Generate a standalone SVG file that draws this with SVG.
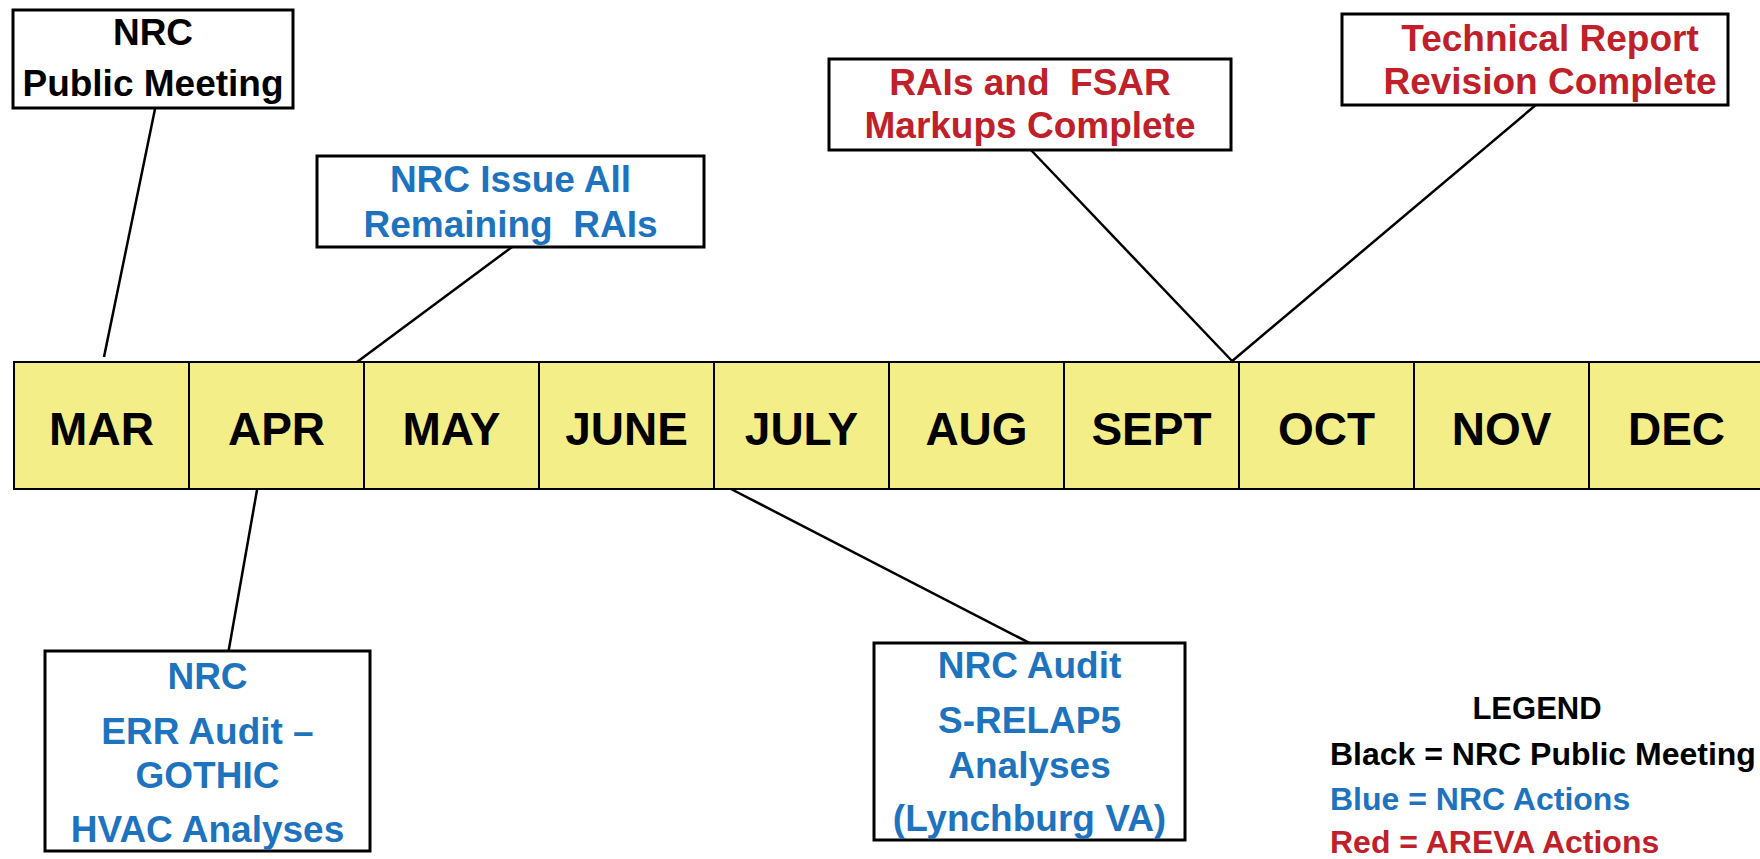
<svg xmlns="http://www.w3.org/2000/svg" width="1760" height="859" viewBox="0 0 1760 859">
<style>
text{font-family:"Liberation Sans",Arial,sans-serif;font-weight:bold;text-anchor:middle}
.box{fill:#fff;stroke:#000;stroke-width:3}
.cell{fill:#F4EE88;stroke:#000;stroke-width:2}
.mon{font-size:46px;fill:#000}
.t{font-size:37px}
.k{fill:#000}.b{fill:#1E73BE}.r{fill:#C0202A}
.con line{stroke:#000;stroke-width:2.5}
</style>
<rect width="1760" height="859" fill="#fff"/>
<g id="timeline">
<rect class="cell" x="14" y="362" width="175" height="127"/>
<rect class="cell" x="189" y="362" width="175" height="127"/>
<rect class="cell" x="364" y="362" width="175" height="127"/>
<rect class="cell" x="539" y="362" width="175" height="127"/>
<rect class="cell" x="714" y="362" width="175" height="127"/>
<rect class="cell" x="889" y="362" width="175" height="127"/>
<rect class="cell" x="1064" y="362" width="175" height="127"/>
<rect class="cell" x="1239" y="362" width="175" height="127"/>
<rect class="cell" x="1414" y="362" width="175" height="127"/>
<rect class="cell" x="1589" y="362" width="180" height="127"/>
<text class="mon" x="101.5" y="445">MAR</text>
<text class="mon" x="276.5" y="445">APR</text>
<text class="mon" x="451.5" y="445">MAY</text>
<text class="mon" x="626.5" y="445">JUNE</text>
<text class="mon" x="801.5" y="445">JULY</text>
<text class="mon" x="976.5" y="445">AUG</text>
<text class="mon" x="1151.5" y="445">SEPT</text>
<text class="mon" x="1326.5" y="445">OCT</text>
<text class="mon" x="1501.5" y="445">NOV</text>
<text class="mon" x="1676.5" y="445">DEC</text>
</g>
<g class="con" id="connectors">
<line x1="155" y1="109" x2="104" y2="357"/>
<line x1="512" y1="247" x2="357" y2="362"/>
<line x1="1030" y1="149" x2="1233" y2="362"/>
<line x1="1537" y1="104" x2="1231" y2="362"/>
<line x1="257" y1="490" x2="227" y2="660"/>
<line x1="731" y1="489" x2="1047" y2="652"/>
</g>
<g id="n-public-meeting">
<rect class="box" x="13" y="10" width="280" height="98"/>
<text class="t k" x="153" y="45">NRC</text>
<text class="t k" x="153" y="96">Public Meeting</text>
</g>
<g id="n-issue-rais">
<rect class="box" x="317" y="156" width="387" height="91"/>
<text class="t b" x="510.5" y="192">NRC Issue All</text>
<text class="t b" x="510.5" y="237" xml:space="preserve">Remaining  RAIs</text>
</g>
<g id="n-fsar">
<rect class="box" x="829" y="59" width="402" height="91"/>
<text class="t r" x="1030" y="95" xml:space="preserve">RAIs and  FSAR</text>
<text class="t r" x="1030" y="138">Markups Complete</text>
</g>
<g id="n-tech-report">
<rect class="box" x="1342" y="14" width="386" height="91"/>
<text class="t r" x="1550" y="51">Technical Report</text>
<text class="t r" x="1550" y="94">Revision Complete</text>
</g>
<g id="n-err-audit">
<rect class="box" x="45" y="651" width="325" height="200"/>
<text class="t b" x="207.5" y="689">NRC</text>
<text class="t b" x="207.5" y="744">ERR Audit –</text>
<text class="t b" x="207.5" y="788">GOTHIC</text>
<text class="t b" x="207.5" y="842">HVAC Analyses</text>
</g>
<g id="n-relap">
<rect class="box" x="874" y="643" width="311" height="197"/>
<text class="t b" x="1029.5" y="678">NRC Audit</text>
<text class="t b" x="1029.5" y="733">S-RELAP5</text>
<text class="t b" x="1029.5" y="778">Analyses</text>
<text class="t b" x="1029.5" y="831">(Lynchburg VA)</text>
</g>
<g id="legend" style="font-size:32px">
<text class="k" x="1537" y="719" style="font-size:31px">LEGEND</text>
<text class="k" x="1330" y="765" style="text-anchor:start">Black = NRC Public Meeting</text>
<text class="b" x="1330" y="810" style="text-anchor:start">Blue = NRC Actions</text>
<text class="r" x="1330" y="853" style="text-anchor:start">Red = AREVA Actions</text>
</g>
</svg>
